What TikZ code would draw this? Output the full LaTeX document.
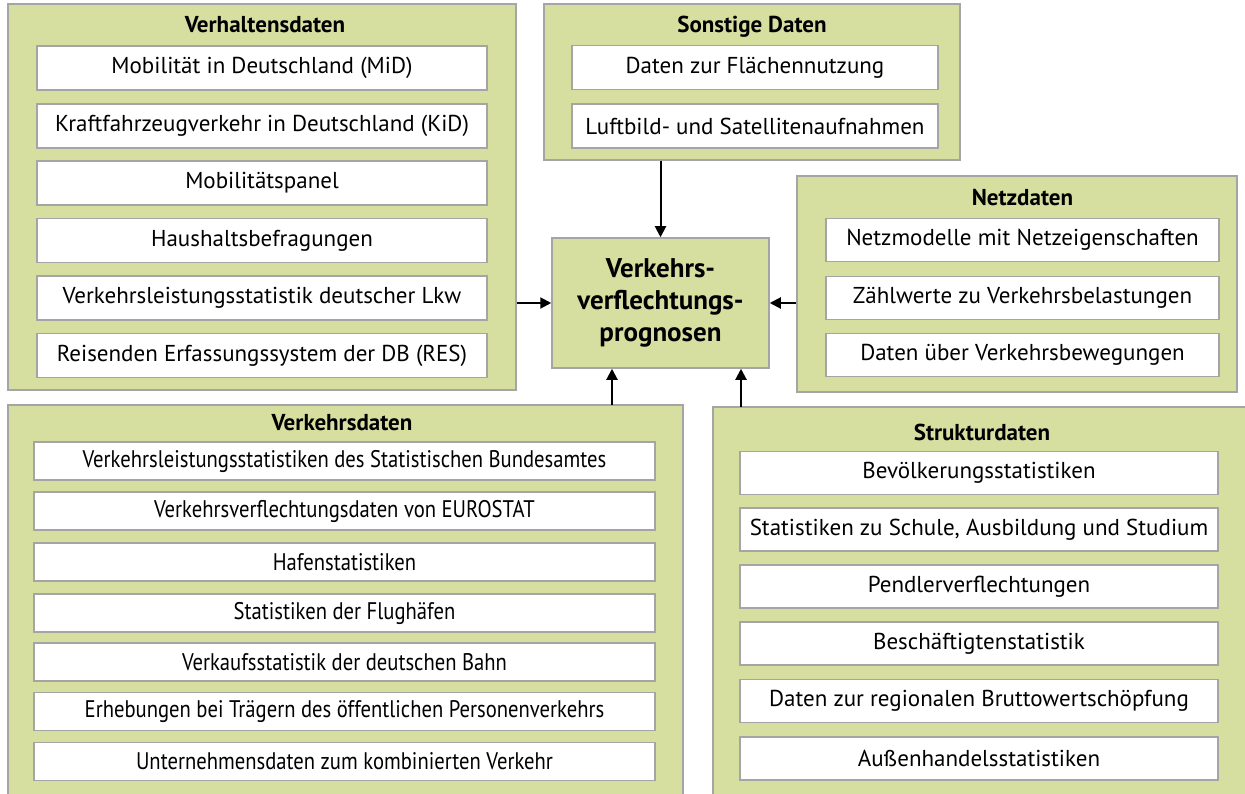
\documentclass[tikz,border=0pt]{standalone}
\usepackage{fontspec}
\setmainfont{PT Sans}
\newfontfamily\narrowfont[FakeStretch=0.86]{PT Sans}
\usetikzlibrary{arrows.meta}
\definecolor{grpfill}{RGB}{214,223,160}
\definecolor{grpline}{RGB}{165,165,165}
\tikzset{
  grp/.style={draw=grpline,fill=grpfill,line width=1.5pt,inner sep=0pt},
  ttl/.style={font=\fontsize{23}{27}\selectfont\bfseries},
  itm/.style={draw=grpline,fill=white,line width=1.2pt,inner sep=0pt,font=\fontsize{23}{27}\selectfont},
  vhbox/.style={itm,minimum width=450,minimum height=44},
  sobox/.style={itm,minimum width=366,minimum height=44},
  nzbox/.style={itm,minimum width=393,minimum height=43},
  vkbox/.style={itm,minimum width=621,minimum height=38,font=\fontsize{24}{28}\selectfont\narrowfont},
  stbox/.style={itm,minimum width=478,minimum height=43},
  hub/.style={grp,align=center,font=\fontsize{27}{32}\selectfont\bfseries},
  arr/.style={line width=2pt,-{Triangle[length=11pt,width=11pt]}}
}

\begin{document}
\begin{tikzpicture}[x=1pt,y=-1pt]
\useasboundingbox (0,0) rectangle (1245,794);
\node[grp,minimum width=508,minimum height=386] (vh) at (262,197) {};
\node[ttl] (vhT) at (265,25) {Verhaltensdaten};
\node[vhbox] (vh1) at (262,68) {Mobilität in Deutschland (MiD)};
\node[vhbox] (vh2) at (262,126) {Kraftfahrzeugverkehr in Deutschland (KiD)};
\node[vhbox] (vh3) at (262,183) {Mobilitätspanel};
\node[vhbox] (vh4) at (262,240.5) {Haushaltsbefragungen};
\node[vhbox] (vh5) at (262,298) {Verkehrsleistungsstatistik deutscher Lkw};
\node[vhbox] (vh6) at (262,355.5) {Reisenden Erfassungssystem der DB (RES)};

\node[grp,minimum width=416,minimum height=156] (so) at (752,82) {};
\node[ttl] (soT) at (752,27) {Sonstige Daten};
\node[sobox] (so1) at (755,67.5) {Daten zur Flächennutzung};
\node[sobox] (so2) at (755,126) {Luftbild- und Satellitenaufnahmen};

\node[grp,minimum width=440,minimum height=216] (nz) at (1017,284) {};
\node[ttl] (nzT) at (1022.5,198) {Netzdaten};
\node[nzbox] (nz1) at (1022.5,240) {Netzmodelle mit Netzeigenschaften};
\node[nzbox] (nz2) at (1022.5,298) {Zählwerte zu Verkehrsbelastungen};
\node[nzbox] (nz3) at (1022.5,355) {Daten über Verkehrsbewegungen};

\node[hub,minimum width=217,minimum height=130] (hub) at (660.5,303) {Verkehrs-\\verflechtungs-\\prognosen};

\node[grp,minimum width=675,minimum height=390] (vk) at (345.5,600) {};
\node[ttl] (vkT) at (342,423) {Verkehrsdaten};
\node[vkbox] (vk1) at (344.5,461) {Verkehrsleistungsstatistiken des Statistischen Bundesamtes};
\node[vkbox] (vk2) at (344.5,511) {Verkehrsverflechtungsdaten von EUROSTAT};
\node[vkbox] (vk3) at (344.5,562) {Hafenstatistiken};
\node[vkbox] (vk4) at (344.5,613) {Statistiken der Flughäfen};
\node[vkbox] (vk5) at (344.5,662) {Verkaufsstatistik der deutschen Bahn};
\node[vkbox] (vk6) at (344.5,711.5) {Erhebungen bei Trägern des öffentlichen Personenverkehrs};
\node[vkbox] (vk7) at (344.5,761.5) {Unternehmensdaten zum kombinierten Verkehr};

\node[grp,minimum width=534,minimum height=389] (st) at (980,601.5) {};
\node[ttl] (stT) at (982,432) {Strukturdaten};
\node[stbox] (st1) at (979,473) {Bevölkerungsstatistiken};
\node[stbox] (st2) at (979,529.5) {Statistiken zu Schule, Ausbildung und Studium};
\node[stbox] (st3) at (979,586.5) {Pendlerverflechtungen};
\node[stbox] (st4) at (979,643.5) {Beschäftigtenstatistik};
\node[stbox] (st5) at (979,701) {Daten zur regionalen Bruttowertschöpfung};
\node[stbox] (st6) at (979,758.5) {Außenhandelsstatistiken};

\coordinate (vkin) at (612,405);
\coordinate (stin) at (741,407);
\draw[arr] (so.south -| hub.north) -- (hub.north);
\draw[arr] (vh.east |- hub.west) -- (hub.west);
\draw[arr] (nz.west |- hub.east) -- (hub.east);
\draw[arr] (vkin) -- (vkin |- hub.south);
\draw[arr] (stin) -- (stin |- hub.south);
\end{tikzpicture}
\end{document}
